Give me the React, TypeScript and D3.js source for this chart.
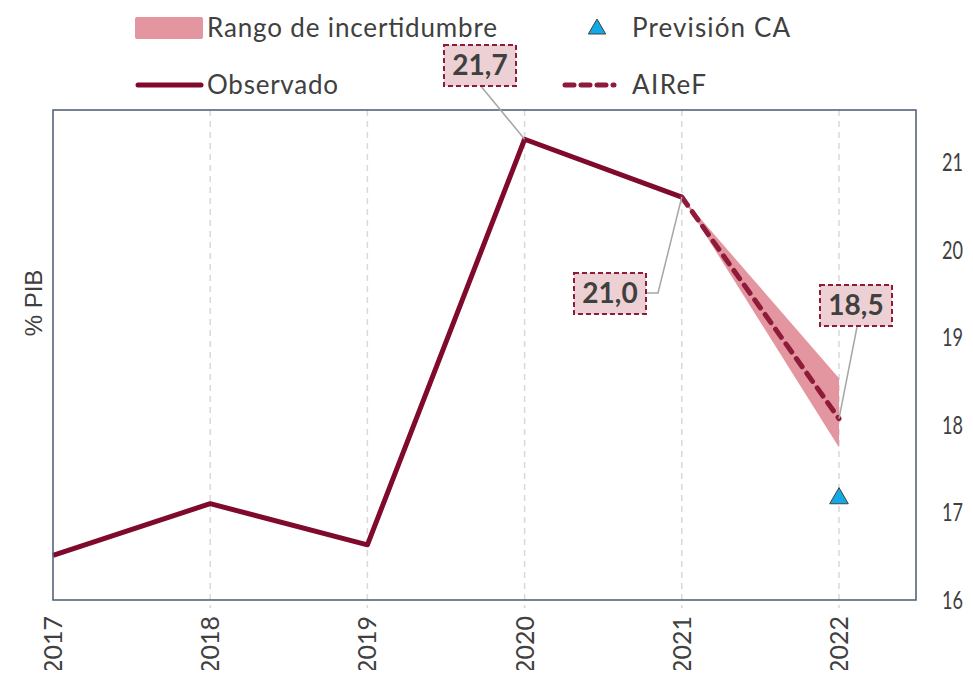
import React from "react";
import * as d3 from "d3";

const years = [2017, 2018, 2019, 2020, 2021, 2022];
const observado = [16.51, 17.1, 16.63, 21.26, 20.6];
const airefYears = [2021, 2022];
const airef = [20.6, 18.07];
const rangoLow = [20.6, 17.74];
const rangoHigh = [20.6, 18.53];
const previsionCA = 17.16;
const yTicks = [16, 17, 18, 19, 20, 21];
const labels = ["21,7", "21,0", "18,5"];

const FONT = "Lato, 'Open Sans', sans-serif";
const TXT = "#404040";
const RED = "#800a2b";
const DASH = "#8e1b39";
const BAND = "#e3969f";

const Chart: React.FC = () => {
  const svgRef = React.useRef<SVGSVGElement | null>(null);

  React.useEffect(() => {
    if (!svgRef.current) return;
    const svg = d3.select(svgRef.current);
    svg.selectAll("*").remove();

    const left = 53;
    const right = 916;
    const top = 110;
    const bottom = 600;

    const x = d3.scaleLinear().domain([2017, 2022]).range([left, 839]);
    const y = d3.scaleLinear().domain([16, 21]).range([bottom, 162]);

    // grid
    svg
      .append("g")
      .selectAll("line")
      .data(years.slice(1))
      .join("line")
      .attr("x1", (d) => x(d))
      .attr("x2", (d) => x(d))
      .attr("y1", top)
      .attr("y2", bottom + 8)
      .attr("stroke", "#d9d9d9")
      .attr("stroke-width", 1.5)
      .attr("stroke-dasharray", "6,5");

    // uncertainty band
    const area = d3
      .area<number>()
      .x((d, i) => x(airefYears[i]))
      .y0((d, i) => y(rangoLow[i]))
      .y1((d, i) => y(rangoHigh[i]));
    svg.append("path").datum(rangoLow).attr("d", area).attr("fill", BAND);

    const line = d3
      .line<number>()
      .x((d, i) => x(years[i]))
      .y((d) => y(d));

    svg
      .append("path")
      .datum(observado)
      .attr("d", line)
      .attr("fill", "none")
      .attr("stroke", RED)
      .attr("stroke-width", 5)
      .attr("stroke-linejoin", "round");

    const line2 = d3
      .line<number>()
      .x((d, i) => x(airefYears[i]))
      .y((d) => y(d));
    svg
      .append("path")
      .datum(airef)
      .attr("d", line2)
      .attr("fill", "none")
      .attr("stroke", DASH)
      .attr("stroke-width", 5)
      .attr("stroke-dasharray", "10,8")
      .attr("stroke-linecap", "round");

    // triangle
    const tri = d3.symbol().type(d3.symbolTriangle).size(150);
    svg
      .append("path")
      .attr("d", tri)
      .attr("transform", `translate(${x(2022)},${y(previsionCA)})`)
      .attr("fill", "#12a9e6")
      .attr("stroke", "#404040")
      .attr("stroke-width", 1);

    // frame
    svg
      .append("rect")
      .attr("x", left)
      .attr("y", top)
      .attr("width", right - left)
      .attr("height", bottom - top)
      .attr("fill", "none")
      .attr("stroke", "#4b5b70")
      .attr("stroke-width", 1.5);

    // y ticks (right)
    svg
      .append("g")
      .selectAll("text")
      .data(yTicks)
      .join("text")
      .attr("x", 942)
      .attr("y", (d) => y(d) + 9)
      .attr("font-family", FONT)
      .attr("font-size", 25)
      .attr("textLength", 21)
      .attr("lengthAdjust", "spacingAndGlyphs")
      .attr("fill", TXT)
      .text((d) => d);

    // x ticks, rotated
    svg
      .append("g")
      .selectAll("text")
      .data(years)
      .join("text")
      .attr("transform", (d) => `translate(${x(d) + 9},674) rotate(-90)`)
      .attr("font-family", FONT)
      .attr("font-size", 25)
      .attr("fill", TXT)
      .text((d) => d);

    svg
      .append("text")
      .attr("transform", "translate(42,303) rotate(-90)")
      .attr("text-anchor", "middle")
      .attr("font-family", "'Liberation Sans', Arial, sans-serif")
      .attr("font-size", 24)
      .attr("fill", TXT)
      .text("% PIB");

    // data labels with leader lines
    const callouts = [
      { text: labels[0], bx: 444, by: 45, pts: [[480, 85], [x(2020), y(observado[3])]] },
      { text: labels[1], bx: 574, by: 273, pts: [[647, 293], [658, 293], [x(2021), y(observado[4])]] },
      { text: labels[2], bx: 820, by: 285, pts: [[857, 327], [x(2022), y(airef[1])]] },
    ];
    callouts.forEach((c) => {
      svg
        .append("path")
        .attr("d", d3.line()(c.pts as [number, number][]))
        .attr("fill", "none")
        .attr("stroke", "#a6a6a6")
        .attr("stroke-width", 1.5);
      svg
        .append("rect")
        .attr("x", c.bx)
        .attr("y", c.by)
        .attr("width", 72)
        .attr("height", 41)
        .attr("fill", "#edd0d3")
        .attr("stroke", DASH)
        .attr("stroke-width", 2)
        .attr("stroke-dasharray", "5,3");
      svg
        .append("text")
        .attr("x", c.bx + 36)
        .attr("y", c.by + 30)
        .attr("text-anchor", "middle")
        .attr("font-family", FONT)
        .attr("font-weight", "bold")
        .attr("font-size", 28)
        .attr("fill", TXT)
        .text(c.text);
    });

    // legend
    const lg = svg.append("g").attr("font-family", FONT).attr("font-size", 26).attr("fill", TXT);
    lg.append("rect").attr("x", 135).attr("y", 17).attr("width", 68).attr("height", 22).attr("rx", 2).attr("fill", BAND);
    lg.append("text").attr("x", 207).attr("y", 37).attr("textLength", 290).text("Rango de incertidumbre");
    lg.append("path")
      .attr("d", d3.symbol().type(d3.symbolTriangle).size(130))
      .attr("transform", "translate(597,29)")
      .attr("fill", "#12a9e6")
      .attr("stroke", "#404040");
    lg.append("text").attr("x", 632).attr("y", 37).attr("textLength", 158).text("Previsión CA");
    lg.append("line").attr("x1", 138).attr("x2", 201).attr("y1", 85).attr("y2", 85)
      .attr("stroke", RED).attr("stroke-width", 5).attr("stroke-linecap", "round");
    lg.append("text").attr("x", 207).attr("y", 94).attr("textLength", 131).text("Observado");
    lg.append("line").attr("x1", 565).attr("x2", 614).attr("y1", 85).attr("y2", 85)
      .attr("stroke", DASH).attr("stroke-width", 5).attr("stroke-dasharray", "9,7").attr("stroke-linecap", "round");
    lg.append("text").attr("x", 632).attr("y", 94).attr("textLength", 74).text("AIReF");
  }, []);

  return <svg ref={svgRef} width={973} height={678} style={{ display: "block" }}></svg>;
};

export default function App() {
  return (
    <div style={{ margin: -8 }}>
      <Chart />
    </div>
  );
}
